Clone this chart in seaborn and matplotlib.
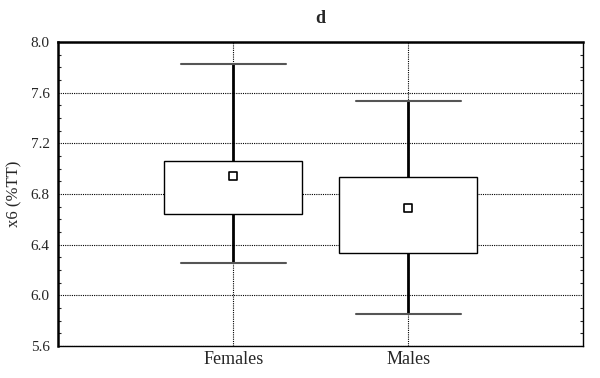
import numpy as np
import pandas as pd
import seaborn as sns
import matplotlib.pyplot as plt
from matplotlib.ticker import MultipleLocator

groups = ["Females", "Males"]
# whisker ends (mean +/- SD), box ends (mean +/- SE), mean
whisker_low = [6.255, 5.853]
box_low = [6.64, 6.334]
means = [6.94, 6.69]
box_high = [7.06, 6.934]
whisker_high = [7.826, 7.534]

# five-number rows so the boxplot quartiles land exactly on the read values
rows = []
for i, g in enumerate(groups):
    for v in [whisker_low[i], box_low[i], means[i], box_high[i], whisker_high[i]]:
        rows.append({"group": g, "x6": v})
df = pd.DataFrame(rows)
mean_df = pd.DataFrame({"group": groups, "x6": means})

sns.set_style("white")
plt.rcParams["font.family"] = ["Liberation Serif", "DejaVu Serif"]

fig = plt.figure(figsize=(6, 3.78), dpi=100)
ax = fig.add_axes([0.097, 0.085, 0.875, 0.804])

sns.boxplot(data=df, x="group", y="x6", order=groups, whis=np.inf, width=0.79,
            color="white", linecolor="black", linewidth=1, fill=True,
            showfliers=False, capwidths=0.6,
            medianprops={"visible": False},
            whiskerprops={"linewidth": 2},
            capprops={"linewidth": 1.5, "color": "#555555"},
            ax=ax, zorder=3)
sns.scatterplot(data=mean_df, x="group", y="x6", marker="s", s=30,
                facecolor="white", edgecolor="black", linewidth=1.2,
                ax=ax, zorder=5)

ax.set_xlim(-1, 2)
ax.set_ylim(5.6, 8.0)
ax.set_yticks(np.arange(5.6, 8.01, 0.4))
ax.set_yticklabels([f"{v:.1f}" for v in np.arange(5.6, 8.01, 0.4)], fontsize=11)
ax.yaxis.set_minor_locator(MultipleLocator(0.1))
ax.tick_params(axis="y", which="major", length=0, pad=6)
ax.tick_params(axis="y", which="minor", direction="in", length=2, left=True, right=True, width=0.8)
ax.tick_params(axis="x", length=0, labelsize=13, pad=4)
ax.grid(True, which="major", color="black", linestyle=(0, (1, 1)), linewidth=0.8)
ax.set_axisbelow(True)

for side in ["top", "left"]:
    ax.spines[side].set_linewidth(1.8)
for side in ["bottom", "right"]:
    ax.spines[side].set_linewidth(1.0)
for s in ax.spines.values():
    s.set_color("black")
    s.set_visible(True)

ax.set_xlabel("")
ax.set_ylabel("x6 (%TT)", fontsize=12, labelpad=6)
ax.set_title("d", fontsize=13, fontweight="bold", pad=14)

fig.savefig("out.png", dpi=100)
